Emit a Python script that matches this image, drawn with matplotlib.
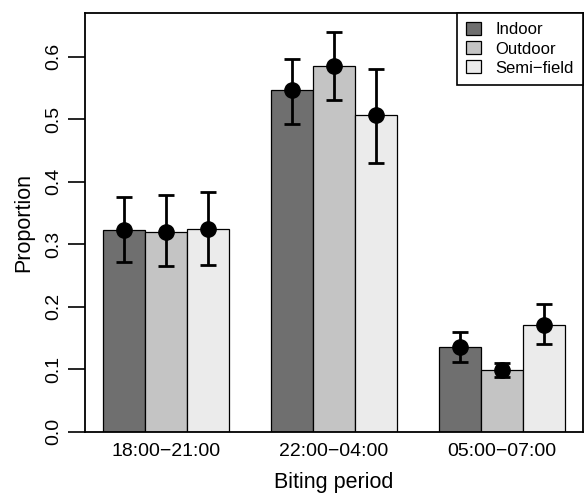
import numpy as np
import matplotlib
matplotlib.use("Agg")
import matplotlib.pyplot as plt

# data
periods = ["18:00\u221221:00", "22:00\u221204:00", "05:00\u221207:00"]
sites = ["Indoor", "Outdoor", "Semi\u2212field"]
colors = ["#6f6f6f", "#c4c4c4", "#ebebeb"]

indoor = [0.322, 0.546, 0.135]
outdoor = [0.319, 0.585, 0.099]
semi = [0.324, 0.506, 0.170]

indoor_lo = [0.272, 0.493, 0.111]
indoor_hi = [0.375, 0.596, 0.160]
outdoor_lo = [0.265, 0.530, 0.087]
outdoor_hi = [0.378, 0.639, 0.110]
semi_lo = [0.267, 0.430, 0.140]
semi_hi = [0.384, 0.580, 0.204]

plt.rcParams['font.family'] = ['Liberation Sans', 'DejaVu Sans']

fig = plt.figure(figsize=(5.84, 4.94), dpi=100)
ax = fig.add_axes([0.1455, 0.126, 0.853, 0.848])

means = [indoor, outdoor, semi]
los = [indoor_lo, outdoor_lo, semi_lo]
his = [indoor_hi, outdoor_hi, semi_hi]

# R barplot(beside=TRUE) layout: width 1, gap of 1 before each group
for j in range(3):
    x = np.array([1 + 4 * g + j + 0.5 for g in range(3)])
    m = np.array(means[j])
    ax.bar(x, m, width=1.0, color=colors[j], edgecolor="black",
           linewidth=0.9, label=sites[j], zorder=2)
    yerr = [m - np.array(los[j]), np.array(his[j]) - m]
    ax.errorbar(x, m, yerr=yerr, fmt="o", color="black", markersize=11,
                elinewidth=2, capsize=6, capthick=2, zorder=3)

ax.set_xlim(0.56, 12.44)
ax.set_ylim(0, 0.67)
ax.set_xticks([2.5, 6.5, 10.5])
ax.set_xticklabels(periods, fontsize=14)
ax.tick_params(axis="x", length=0, pad=8)
ax.set_yticks(np.arange(0, 0.61, 0.1))
ax.set_yticklabels(["0.0", "0.1", "0.2", "0.3", "0.4", "0.5", "0.6"],
                   fontsize=14, rotation=90, va="center")
ax.tick_params(axis="y", length=12, width=1.2, pad=4)
for s in ax.spines.values():
    s.set_linewidth(1.3)

ax.set_xlabel("Biting period", fontsize=15.5, labelpad=9)
ax.set_ylabel("Proportion", fontsize=15.5, labelpad=8)

leg = ax.legend(loc="upper right", borderaxespad=0, fancybox=False,
                edgecolor="black", fontsize=12, handlelength=0.85,
                handleheight=0.85, labelspacing=0.22, handletextpad=0.9,
                borderpad=0.55, framealpha=1)
leg.get_frame().set_linewidth(1.2)

fig.savefig("out.png", dpi=100)
